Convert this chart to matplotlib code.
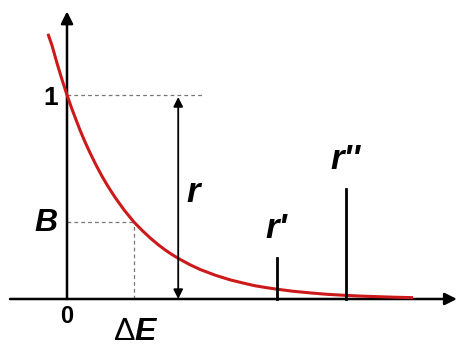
import matplotlib
matplotlib.use("Agg")
import matplotlib.pyplot as plt

# curve points (x in units of dE, y relative to 1)
curve_x = [-0.284, -0.224, -0.149, -0.075, 0.0, 0.075, 0.194, 0.269, 0.343, 0.433,
           0.522, 0.612, 0.716, 0.851, 1.0, 1.119, 1.239, 1.358, 1.463, 1.567,
           1.672, 1.836, 1.985, 2.209, 2.433, 2.657, 2.806, 2.970, 3.134, 3.373,
           3.627, 3.881, 4.149, 4.403, 4.672, 4.910, 5.164]
curve_y = [1.30, 1.243, 1.156, 1.076, 1.0, 0.930, 0.828, 0.770, 0.717, 0.657,
           0.602, 0.552, 0.499, 0.437, 0.377, 0.337, 0.300, 0.267, 0.241, 0.218,
           0.197, 0.168, 0.145, 0.117, 0.094, 0.076, 0.065, 0.056, 0.048, 0.038,
           0.030, 0.023, 0.018, 0.014, 0.011, 0.0085, 0.0066]

dE = 1.0
B = 0.377
r_x = 1.66
r_top = 0.99
stick_x = [3.13, 4.16]
stick_h = [0.20, 0.54]
stick_labels = ["r'", "r''"]

fig = plt.figure(figsize=(4.59, 3.47), dpi=100)
ax = fig.add_axes([0, 0, 1, 1])
ax.set_xlim(-1.0, 5.851)
ax.set_ylim(-0.2353, 1.4657)
ax.axis("off")

fnt = ["Liberation Sans", "DejaVu Sans"]

# axes with arrows
ax.annotate("", xy=(5.82, 0), xytext=(-0.85, 0),
            arrowprops=dict(arrowstyle="-|>", mutation_scale=18, lw=1.8, color="black",
                            shrinkA=0, shrinkB=0))
ax.annotate("", xy=(0, 1.41), xytext=(0, 0),
            arrowprops=dict(arrowstyle="-|>", mutation_scale=18, lw=1.8, color="black",
                            shrinkA=0, shrinkB=0))

# dashed guides
ax.plot([0, 2.01], [1, 1], ls=(0, (3, 2.5)), color="#777777", lw=0.9)
ax.plot([0, dE], [B, B], ls=(0, (3, 2.5)), color="#777777", lw=0.9)
ax.plot([dE, dE], [0, B], ls=(0, (3, 2.5)), color="#777777", lw=0.9)

# red decay curve
ax.plot(curve_x, curve_y, color="#cc1a1a", lw=2.2, solid_capstyle="butt", zorder=3)

# double arrow r
ax.annotate("", xy=(r_x, r_top), xytext=(r_x, 0),
            arrowprops=dict(arrowstyle="<|-|>", mutation_scale=14, lw=1.3, color="black",
                            shrinkA=0, shrinkB=0))

# sticks r', r''
for sx, sh in zip(stick_x, stick_h):
    ax.plot([sx, sx], [0, sh], color="black", lw=2.0, zorder=4)

# labels
ax.text(-0.24, 0.985, "1", fontsize=19, fontweight="bold", family=fnt, ha="center", va="center")
ax.text(-0.31, 0.375, "B", fontsize=23, fontweight="bold", style="italic", family=fnt,
        ha="center", va="center")
ax.text(-0.01, -0.085, "0", fontsize=17, fontweight="bold", family=fnt, ha="center", va="center")
ax.text(1.02, -0.16, "\u0394", fontsize=23, family=fnt, ha="right", va="center")
ax.text(1.0, -0.16, "E", fontsize=23, fontweight="bold", style="italic", family=fnt,
        ha="left", va="center")
ax.text(1.88, 0.52, "r", fontsize=25, fontweight="bold", style="italic", family=fnt,
        ha="center", va="center")
for sx, sh, lab in zip(stick_x, stick_h, stick_labels):
    ax.text(sx, sh + 0.145, lab, fontsize=25, fontweight="bold", style="italic", family=fnt,
            ha="center", va="center")

fig.savefig("out.png", dpi=100)
